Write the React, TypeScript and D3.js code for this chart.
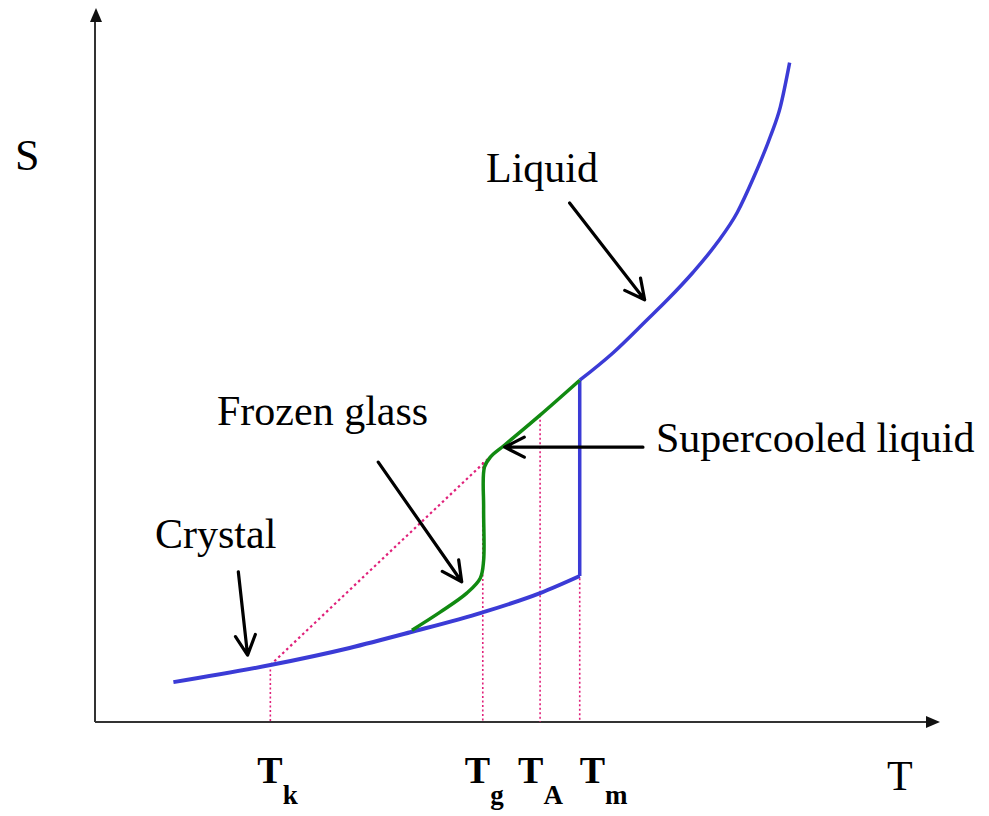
import React from "react";
import * as d3 from "d3";

// Entropy vs temperature for a glass-forming liquid (abstract units)
const crystalT = [9.3, 20.8, 30.2, 37.4, 46.0, 52.8, 57.5];
const crystalS = [5.6, 8.0, 10.4, 12.6, 15.4, 18.1, 20.5];

const liquidT = [57.5, 61.4, 65.5, 67.9, 70.9, 73.8, 76.2, 78.1, 80.1, 81.3, 82.4];
const liquidS = [48.0, 51.8, 56.5, 59.3, 63.1, 67.3, 71.6, 76.4, 82.2, 86.4, 92.6];

const glassT = [57.5, 52.8, 48.6, 46.9, 46.2, 46.1, 46.1, 45.7, 44.1, 40.9, 37.6];
const glassS = [48.0, 43.1, 38.9, 37.2, 35.8, 30.0, 22.7, 20.2, 18.1, 15.4, 12.9];

// Extrapolated ideal-glass line from Tk towards Tg
const extrapT = [20.8, 47.2];
const extrapS = [8.0, 37.6];

// Characteristic temperatures and where the guide lines start
const tickNames = ["k", "g", "A", "m"];
const tickT = [20.8, 46.0, 52.8, 57.5];
const tickTopS = [8.0, 36.5, 43.1, 48.0];
const tickDx = [-13, -18, -22, 0];

// Annotation arrows: [fromT, fromS, toT, toS]
const arrows = [
  [56.3, 72.9, 65.2, 59.3],
  [33.6, 36.5, 43.5, 19.7],
  [17.0, 21.1, 18.1, 9.4],
  [65.0, 38.6, 48.6, 38.6],
];

const W = 989;
const H = 816;
const x = d3.scaleLinear().domain([0, 100]).range([95, 938]);
const y = d3.scaleLinear().domain([0, 100]).range([722, 10]);

const BLUE = "#3b3bd6";
const GREEN = "#118a11";
const PINK = "#e0207a";
const FONT = "'Liberation Serif', 'Times New Roman', serif";

function zip(a: number[], b: number[]): [number, number][] {
  return a.map((v, i) => [v, b[i]]);
}

const smooth = d3
  .line<[number, number]>()
  .x((d) => x(d[0]))
  .y((d) => y(d[1]))
  .curve(d3.curveMonotoneX);

const path = d3
  .line<[number, number]>()
  .x((d) => x(d[0]))
  .y((d) => y(d[1]))
  .curve(d3.curveCatmullRom.alpha(0.5));

const straight = d3
  .line<[number, number]>()
  .x((d) => x(d[0]))
  .y((d) => y(d[1]));

function arrowPath(a: number[]) {
  const x1 = x(a[0]);
  const y1 = y(a[1]);
  const x2 = x(a[2]);
  const y2 = y(a[3]);
  const ang = Math.atan2(y2 - y1, x2 - x1);
  const len = 22;
  const spread = (27 * Math.PI) / 180;
  const b1 = [x2 - len * Math.cos(ang - spread), y2 - len * Math.sin(ang - spread)];
  const b2 = [x2 - len * Math.cos(ang + spread), y2 - len * Math.sin(ang + spread)];
  return `M${x1},${y1}L${x2},${y2}M${b1[0]},${b1[1]}L${x2},${y2}L${b2[0]},${b2[1]}`;
}

export default function App() {
  const x0 = x(0);
  const y0 = y(0);
  return (
    <div style={{ position: "absolute", left: 0, top: 0 }}>
      <svg width={W} height={H} style={{ display: "block", background: "#fff" }}>
        {/* axes */}
        <line x1={x0} y1={y0} x2={x0} y2={18} stroke="#333" strokeWidth={2} />
        <line x1={x0} y1={y0} x2={928} y2={y0} stroke="#333" strokeWidth={2} />
        <path d={`M${x0 + 1},8 L${x0 - 5},22 L${x0 + 7},22 Z`} fill="#111" />
        <path d={`M940,${y0} L926,${y0 - 6} L926,${y0 + 6} Z`} fill="#111" />

        {/* dotted guides */}
        {tickT.map((t, i) => (
          <line
            key={"g" + i}
            x1={x(t)}
            x2={x(t)}
            y1={y(tickTopS[i])}
            y2={y0}
            stroke={PINK}
            strokeWidth={1.6}
            strokeDasharray="2,2.5"
          />
        ))}
        <path
          d={straight(zip(extrapT, extrapS)) || ""}
          fill="none"
          stroke={PINK}
          strokeWidth={2.2}
          strokeDasharray="2.5,3"
        />

        {/* curves */}
        <path d={smooth(zip(crystalT, crystalS)) || ""} fill="none" stroke={BLUE} strokeWidth={4} />
        <path
          d={straight([
            [57.5, 20.5],
            [57.5, 48.0],
          ]) || ""}
          fill="none"
          stroke={BLUE}
          strokeWidth={3.5}
        />
        <path d={path(zip(glassT, glassS)) || ""} fill="none" stroke={GREEN} strokeWidth={3.5} />
        <path d={smooth(zip(liquidT, liquidS)) || ""} fill="none" stroke={BLUE} strokeWidth={3.5} />

        {/* annotation arrows */}
        {arrows.map((a, i) => (
          <path
            key={"a" + i}
            d={arrowPath(a)}
            fill="none"
            stroke="#000"
            strokeWidth={3.2}
            strokeLinecap="round"
            strokeLinejoin="round"
          />
        ))}

        {/* labels */}
        <g fontFamily={FONT} fill="#000">
          <text x={15} y={170} fontSize={44}>S</text>
          <text x={887} y={790} fontSize={42}>T</text>
          <text x={486} y={182} fontSize={42}>Liquid</text>
          <text x={217} y={425} fontSize={42}>Frozen glass</text>
          <text x={656} y={452} fontSize={42}>Supercooled liquid</text>
          <text x={155} y={548} fontSize={42}>Crystal</text>
        </g>

        {/* tick labels */}
        <g fontFamily={FONT} fontWeight="bold" fill="#000">
          {tickT.map((t, i) => (
            <text key={"t" + i} x={x(t) + tickDx[i]} y={783} fontSize={38}>
              T
              <tspan dy={21} fontSize={27}>
                {tickNames[i]}
              </tspan>
            </text>
          ))}
        </g>
      </svg>
    </div>
  );
}
